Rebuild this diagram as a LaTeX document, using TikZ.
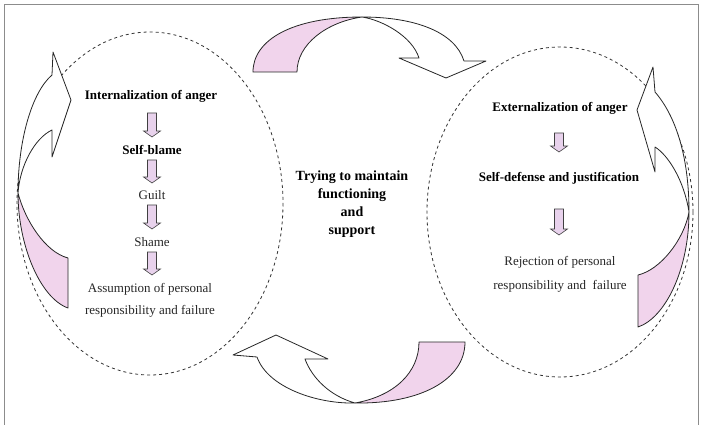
\documentclass[tikz,border=0pt]{standalone}
\usepackage{fontspec}
\setmainfont{Liberation Serif}
\usetikzlibrary{calc}
\definecolor{pinkfill}{RGB}{241,212,236}
\definecolor{arrowfill}{RGB}{232,210,236}
\definecolor{framegray}{RGB}{140,140,140}
\begin{document}
\begin{tikzpicture}[x=1pt,y=-1pt,
  outline/.style={draw=black!85, line width=0.8pt, line join=round},
  pinkpart/.style={outline, fill=pinkfill},
  whitepart/.style={outline, fill=white},
  dashell/.style={draw=black!80, line width=0.8pt, dash pattern=on 3pt off 3pt},
  boldtxt/.style={font=\fontsize{13}{15}\selectfont\bfseries, inner sep=0pt},
  regtxt/.style={font=\fontsize{13}{15}\selectfont, inner sep=0pt, text=black!85},
  centertxt/.style={font=\fontsize{14}{18}\selectfont\bfseries, inner sep=0pt, align=center},
  blockarr/.style={draw=black!75, line width=0.6pt, fill=arrowfill, line join=miter,
    to path={let \p1=(\tikztostart), \p2=(\tikztotarget) in
      (\x1-4.5pt,\y1) -- (\x1+4.5pt,\y1) -- (\x1+4.5pt,\y2+6pt) -- (\x1+8.5pt,\y2+6pt)
      -- (\x1,\y2) -- (\x1-8.5pt,\y2+6pt) -- (\x1-4.5pt,\y2+6pt) -- cycle}}
]
\useasboundingbox (0,0) rectangle (702,425);
% frame
\draw[framegray, line width=1pt] (4,425) -- (4,4.5) -- (698.5,4.5) -- (698.5,425);

% dashed ellipses
\draw[dashell] (150,203.5) ellipse [x radius=133, y radius=171.5];
\draw[dashell] (560,212) ellipse [x radius=133, y radius=165];

% top curved arrow
\draw[pinkpart] (253,72) .. controls (253,40) and (292,17) .. (362,17)
  .. controls (327,22) and (297,44) .. (297,72) -- cycle;
\draw[whitepart] (362,17) .. controls (415,17) and (455,32) .. (464,61) -- (486,61)
  -- (446,78) -- (399,58) -- (419,58) .. controls (412,36) and (382,20) .. (362,17) -- cycle;

% bottom curved arrow
\draw[pinkpart] (419,342) -- (465,342) .. controls (465,380) and (420,404) .. (355,403)
  .. controls (395,396) and (419,372) .. (419,342) -- cycle;
\draw[whitepart] (355,403) .. controls (318,404) and (268,388) .. (257,357) -- (233,355)
  -- (276,335) -- (328,359) -- (305,359) .. controls (312,378) and (330,396) .. (355,403) -- cycle;

% left curved arrow
\draw[pinkpart] (68,258) -- (68,308) .. controls (40,298) and (18,245) .. (18,193)
  .. controls (25,220) and (45,252) .. (68,258) -- cycle;
\draw[whitepart] (18,193) .. controls (18,140) and (32,92) .. (52,75) -- (53,52)
  -- (71,100) -- (52,157) -- (52,130) .. controls (35,138) and (20,165) .. (18,193) -- cycle;

% right curved arrow
\draw[pinkpart] (638,275) -- (638,327) .. controls (665,318) and (689,270) .. (689,212)
  .. controls (684,240) and (660,270) .. (638,275) -- cycle;
\draw[whitepart] (689,212) .. controls (689,155) and (675,115) .. (655,92) -- (653,67)
  -- (637,110) -- (655,172) -- (655,147) .. controls (668,155) and (684,180) .. (689,212) -- cycle;

% left column
\node[boldtxt] (t1) at (151,96) {Internalization of anger};
\node[boldtxt] (t2) at (152,150) {Self-blame};
\node[regtxt] (t3) at (152,195) {Guilt};
\node[regtxt] (t4) at (152,242) {Shame};
\node[regtxt, align=center, font=\fontsize{13}{22}\selectfont] (t5) at (150,300)
  {Assumption of personal\\responsibility and failure};
\path[blockarr] ($(t1.center)+(1,17)$) to ($(t1.center)+(1,41)$);
\path[blockarr] ($(t2.center)+(0,10)$) to ($(t2.center)+(0,33)$);
\path[blockarr] ($(t3.center)+(0,10)$) to ($(t3.center)+(0,34)$);
\path[blockarr] ($(t4.center)+(0,10)$) to ($(t4.center)+(0,33)$);

% center
\node[centertxt] (c) at (352,204) {Trying to maintain\\functioning\\and\\support};

% right column
\node[boldtxt] (r1) at (560,108) {Externalization of anger};
\node[boldtxt] (r2) at (559,178) {Self-defense and justification};
\node[regtxt, align=center, font=\fontsize{13}{24}\selectfont] (r3) at (560,274)
  {Rejection of personal\\responsibility and~ failure};
\path[blockarr] ($(r1.center)+(-1,25)$) to ($(r1.center)+(-1,44)$);
\path[blockarr] ($(r2.center)+(0,31)$) to ($(r2.center)+(0,57)$);
\end{tikzpicture}
\end{document}
